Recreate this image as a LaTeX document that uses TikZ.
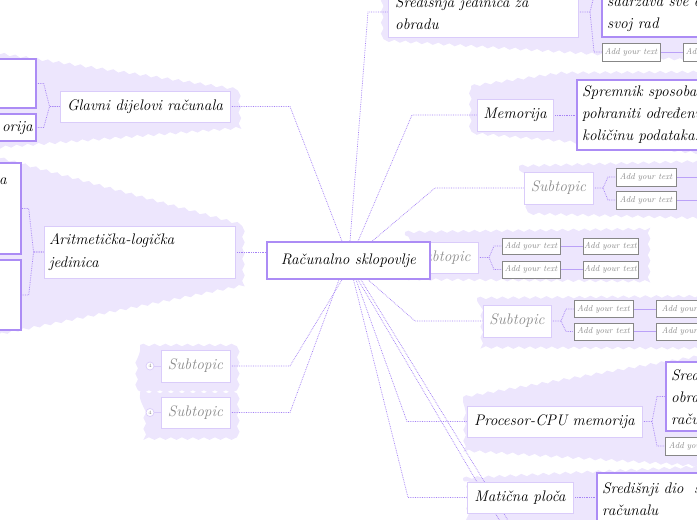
\documentclass[tikz,border=0pt]{standalone}
\usetikzlibrary{decorations.pathmorphing,calc}
\definecolor{blobc}{RGB}{237,230,253}
\definecolor{mainb}{RGB}{172,140,245}
\definecolor{topb}{RGB}{218,204,250}
\definecolor{connc}{RGB}{165,130,245}
\definecolor{addb}{RGB}{135,135,135}
\definecolor{greyt}{RGB}{140,140,140}
\pgfdeclarelayer{bg}
\pgfdeclarelayer{mid}
\pgfsetlayers{bg,mid,main}
\tikzset{
 every node/.style={font=\fontsize{15.3}{22}\selectfont\itshape, inner sep=0pt},
 blob/.style={fill=blobc, decorate, decoration={snake, amplitude=1.3pt, segment length=11pt}},
 topic/.style={draw=topb, line width=0.9pt, fill=white},
 mainbox/.style={draw=mainb, line width=1.4pt, fill=white},
 centbox/.style={draw=mainb, line width=1.4pt, fill=white},
 addbox/.style={draw=addb, line width=0.9pt, fill=white, text=greyt, font=\fontsize{8.6}{10}\selectfont\itshape},
 subbox/.style={topic, text=greyt},
 conn/.style={draw=connc, line width=0.75pt, densely dotted},
 sconn/.style={draw=connc!75, line width=0.8pt},
 txt/.style={anchor=west, align=left}
}
\begin{document}
\begin{tikzpicture}[x=1pt,y=-1pt]
\useasboundingbox (0,0) rectangle (697,520);
\clip (0,0) rectangle (697,520);
% background blobs
\begin{pgfonlayer}{bg}
\path[blob] (-10,52) -- (236,89) -- (237,129) -- (-10,149) -- cycle;
\path[blob] (-10,155) -- (240,224) -- (240,286) -- (-10,336) -- cycle;
\path[blob] (140,345) -- (236,345) -- (236,388) -- (140,388) -- cycle;
\path[blob] (140,392) -- (236,392) -- (236,433) -- (140,433) -- cycle;
\path[blob] (382,-10) -- (710,-10) -- (710,65) -- (382,44) -- cycle;
\path[blob] (471,86) -- (560,73) -- (710,72) -- (710,159) -- (471,138) -- cycle;
\path[blob] (519,166) -- (710,161) -- (710,216) -- (519,211) -- cycle;
\path[blob] (405,232) -- (645,229) -- (645,287) -- (405,285) -- cycle;
\path[blob] (477,298) -- (710,296) -- (710,347) -- (477,346) -- cycle;
\path[blob] (463,397) -- (710,354) -- (710,462) -- (463,446) -- cycle;
\path[blob] (463,478) -- (710,466) -- (710,540) -- (463,540) -- cycle;
\end{pgfonlayer}

% left side nodes
\node[topic, minimum width=170pt, minimum height=31pt] (glavni) at (145,106.5) {Glavni dijelovi računala};
\node[mainbox, minimum width=50pt, minimum height=49pt] (g1) at (11,83.5) {};
\node[mainbox, minimum width=50pt, minimum height=27pt] (g2) at (11,127.5) {};
\node[anchor=east] (g2t) at (33,128) {orija};
\node[topic, minimum width=191pt, minimum height=52pt, text width=181pt, align=left, font=\fontsize{15.3}{23}\selectfont\itshape] (aritm) at (139.5,252) {Aritmetička-logička\\jedinica};
\node[mainbox, minimum width=40pt, minimum height=91pt] (a1) at (1,208.5) {};
\node[mainbox, minimum width=40pt, minimum height=70pt] (a2) at (1,295) {};
\node (a1t) at (3,181) {a};
\node[subbox, minimum width=69pt, minimum height=32pt] (sl1) at (195.5,366) {Subtopic};
\node[subbox, minimum width=69pt, minimum height=31pt] (sl2) at (195.5,412.5) {Subtopic};
\node[circle, draw=topb, line width=0.7pt, fill=white, minimum size=8pt, text=greyt, font=\fontsize{5}{5}\selectfont] (c1) at (150,366) {4};
\node[circle, draw=topb, line width=0.7pt, fill=white, minimum size=8pt, text=greyt, font=\fontsize{5}{5}\selectfont] (c2) at (150,412.5) {4};

% right side nodes
\node[topic, minimum width=190pt, minimum height=60pt] (sred) at (483,7) {};
\node[txt] (sredt) at (395,13.5) {Središnja jedinica za\\obradu};
\node[mainbox, minimum width=120pt, minimum height=82pt] (sc1) at (662,-4) {};
\node[txt] (sc1t) at (607,14) {sadržava sve d\\svoj rad};
\node[addbox, minimum width=58pt, minimum height=18pt] (sa1) at (631,52) {Add your text};
\node[addbox, minimum width=58pt, minimum height=18pt] (sa2) at (712,52) {Add your text};

\node[topic, minimum width=76pt, minimum height=32pt] (mem) at (515,115) {Memorija};
\node[mainbox, minimum width=150pt, minimum height=70pt] (mc) at (652,115) {};
\node[txt] (mct) at (582,115) {Spremnik sposoban\\pohraniti određenu\\količinu podataka.};

\node[subbox, minimum width=69pt, minimum height=32pt] (sr1) at (558.5,188) {Subtopic};
\node[addbox, minimum width=60pt, minimum height=18pt] (sr1a) at (646,177) {Add your text};
\node[addbox, minimum width=60pt, minimum height=18pt] (sr1b) at (646,200) {Add your text};
\coordinate (sr1ax) at (720,177);
\coordinate (sr1bx) at (720,200);

\node[subbox, minimum width=70pt, minimum height=31pt] (sr2) at (443,257.5) {Subtopic};
\node[addbox, minimum width=58pt, minimum height=16pt] (sr2a) at (531,246) {Add your text};
\node[addbox, minimum width=58pt, minimum height=17pt] (sr2b) at (531,269.5) {Add your text};
\node[addbox, minimum width=55pt, minimum height=16pt] (sr2c) at (610.5,246) {Add your text};
\node[addbox, minimum width=55pt, minimum height=17pt] (sr2d) at (610.5,269.5) {Add your text};

\node[subbox, minimum width=68pt, minimum height=32pt] (sr3) at (517,321) {Subtopic};
\node[addbox, minimum width=59pt, minimum height=17pt] (sr3a) at (603.5,309) {Add your text};
\node[addbox, minimum width=59pt, minimum height=17pt] (sr3b) at (603.5,331.5) {Add your text};
\node[addbox, minimum width=64pt, minimum height=17pt] (sr3c) at (688,309) {Add your text};
\node[addbox, minimum width=64pt, minimum height=17pt] (sr3d) at (688,331.5) {Add your text};

\node[topic, minimum width=175pt, minimum height=31pt] (proc) at (554.5,421.5) {Procesor-CPU memorija};
\node[mainbox, minimum width=60pt, minimum height=69pt] (pc) at (696,396.5) {};
\node[txt] (pct) at (671,397) {Sred\\obra\\raču};
\node[addbox, minimum width=60pt, minimum height=18pt] (pa) at (695,446) {Add your text};

\node[topic, minimum width=106pt, minimum height=31pt] (mat) at (520,497.5) {Matična ploča};
\node[mainbox, minimum width=130pt, minimum height=70pt] (mc2) at (662,508) {};
\node[txt] (mc2t) at (602,499.5) {Središnji dio\ \ s\\računalu};

\coordinate (off1) at (514,545);
\coordinate (off2) at (523,545);

% central box
\node[centbox, minimum width=163pt, minimum height=37pt] (center) at (348.5,260.5) {Računalno sklopovlje};

% connectors (behind boxes)
\begin{pgfonlayer}{mid}
\draw[conn] (glavni.east) -- (290,106.5) -- ([xshift=-6.5pt]center.north);
\draw[conn] (aritm.east) -- (aritm.east -| center.west);
\draw[conn] (sl1.east) -- (290,366) -- ([xshift=-6.5pt]center.south);
\draw[conn] (sl2.east) -- (290,412.5) -- ([xshift=-9.5pt]center.south);
\draw[conn] ([yshift=-5pt]sred.west) -- (368,12) -- ([xshift=1.5pt]center.north);
\draw[conn] (mem.west) -- (412,115) -- ([xshift=9.5pt]center.north);
\draw[conn] (sr1.west) -- (435,188) -- ([xshift=23.5pt]center.north);
\draw[conn] (center.east) -- (sr2.west);
\draw[conn] (sr3.west) -- (415,321) -- ([xshift=19.5pt]center.south);
\draw[conn] (proc.west) -- (407,421.5) -- ([xshift=7.5pt]center.south);
\draw[conn] (mat.west) -- (408,497.5) -- ([xshift=5pt]center.south);
\draw[conn] ([xshift=9.5pt]center.south) -- (off1);
\draw[conn] ([xshift=12.5pt]center.south) -- (off2);
\draw[conn] (glavni.west) -- ++(-10,0) -- ([xshift=7pt]g1.east) -- (g1.east);
\draw[conn] (glavni.west) -- ++(-10,0) -- ([xshift=7pt]g2.east) -- (g2.east);
\draw[conn] (aritm.west) -- ++(-10,0) -- ([xshift=7pt]a1.east) -- (a1.east);
\draw[conn] (aritm.west) -- ++(-10,0) -- ([xshift=7pt]a2.east) -- (a2.east);
\draw[sconn, draw=topb] (c1.east) -- (sl1.west);
\draw[sconn, draw=topb] (c2.east) -- (sl2.west);
\draw[conn] ([yshift=-5pt]sred.east) -- (590,12) -- (594,-4) -- (sc1.west);
\draw[conn] (590,12) -- (594,52) -- (sa1.west);
\draw[sconn] (sa1.east) -- (sa2.west);
\draw[conn] (mem.east) -- (mc.west);
\draw[conn] (sr1.east) -- (603,188) -- (608,177) -- (sr1a.west);
\draw[conn] (603,188) -- (608,200) -- (sr1b.west);
\draw[sconn] (sr1a.east) -- (sr1ax);
\draw[sconn] (sr1b.east) -- (sr1bx);
\draw[conn] (sr2.east) -- (489,257.5) -- (494,246) -- (sr2a.west);
\draw[conn] (489,257.5) -- (494,269.5) -- (sr2b.west);
\draw[sconn] (sr2a.east) -- (sr2c.west);
\draw[sconn] (sr2b.east) -- (sr2d.west);
\draw[conn] (sr3.east) -- (561,321) -- (566,309) -- (sr3a.west);
\draw[conn] (561,321) -- (566,331.5) -- (sr3b.west);
\draw[sconn] (sr3a.east) -- (sr3c.west);
\draw[sconn] (sr3b.east) -- (sr3d.west);
\draw[conn] (proc.east) -- (652,421.5) -- (657,396.5) -- (pc.west);
\draw[conn] (652,421.5) -- (657,446) -- (pa.west);
\draw[conn] (mat.east) -- (mat.east -| mc2.west);
\end{pgfonlayer}
\end{tikzpicture}
\end{document}
